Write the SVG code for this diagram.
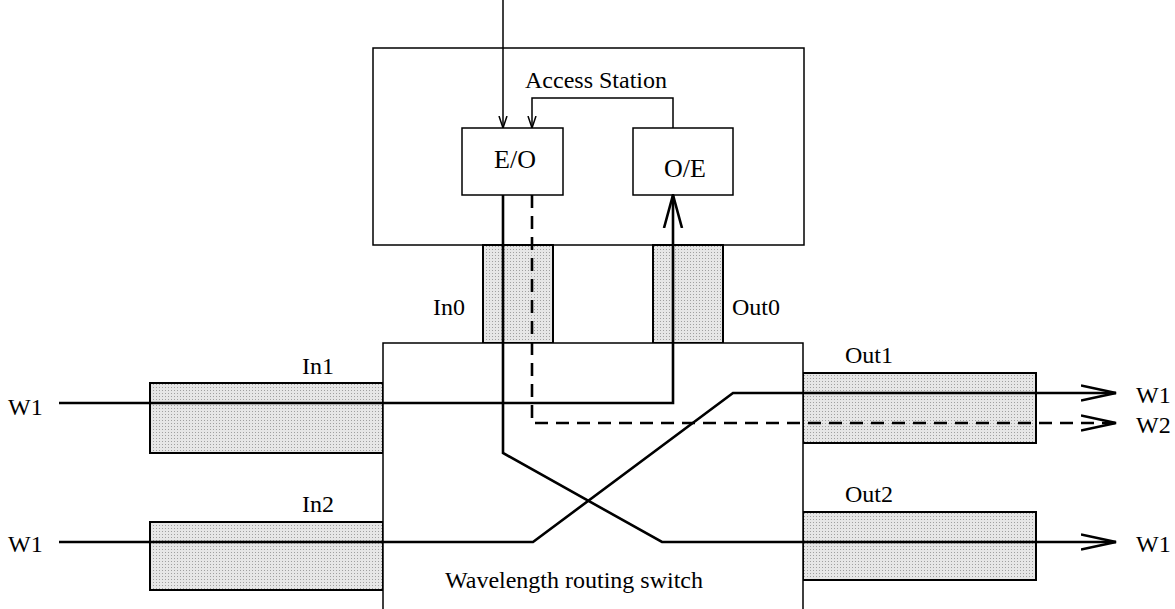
<svg xmlns="http://www.w3.org/2000/svg" width="1175" height="609" viewBox="0 0 1175 609">
<style>
text{font-family:"Liberation Serif","Times New Roman",serif;font-size:24px;fill:#000}
.box{fill:#fff;stroke:#000;stroke-width:1.5}
.fib{fill:url(#stip);stroke:#000;stroke-width:2}
.thin{fill:none;stroke:#000;stroke-width:1.5}
.sig{fill:none;stroke:#000;stroke-width:2.6}
.dash{stroke-dasharray:13,8}
</style>
<defs>
<pattern id="stip" width="3" height="3" patternUnits="userSpaceOnUse">
<rect width="3" height="3" fill="#e6e6e6"/>
<rect width="1" height="1" fill="#a0a0a0"/>
</pattern>
<marker id="sm" viewBox="0 0 12 10" refX="12" refY="5" markerWidth="12" markerHeight="10" markerUnits="userSpaceOnUse" orient="auto">
<path d="M0,1 L12,5 L0,9" fill="none" stroke="#000" stroke-width="1.5"/>
</marker>
<marker id="big" viewBox="0 0 36 18" refX="35" refY="9" markerWidth="36" markerHeight="18" markerUnits="userSpaceOnUse" orient="auto">
<path d="M0,1.5 L35,9 L0,16.5" fill="none" stroke="#000" stroke-width="2.6"/>
</marker>
<marker id="up" viewBox="0 0 34 22" refX="33" refY="11" markerWidth="34" markerHeight="22" markerUnits="userSpaceOnUse" orient="auto">
<path d="M0,2 L33,11 L0,20" fill="none" stroke="#000" stroke-width="2.6"/>
</marker>
</defs>
<g id="access-station">
<rect class="box" x="373" y="48" width="431" height="197"/>
<text x="596" y="88" text-anchor="middle">Access Station</text>
</g>
<g id="eo">
<rect class="box" x="462" y="128" width="101" height="67"/>
<text x="515" y="168" text-anchor="middle" style="font-size:26px">E/O</text>
</g>
<g id="oe">
<rect class="box" x="633" y="128" width="100" height="67"/>
<text x="685" y="177" text-anchor="middle" style="font-size:26px">O/E</text>
</g>
<g id="in0">
<rect class="fib" x="483" y="245" width="70" height="98"/>
<text x="433" y="315">In0</text>
</g>
<g id="out0">
<rect class="fib" x="653" y="245" width="70" height="98"/>
<text x="732" y="315">Out0</text>
</g>
<g id="in1">
<rect class="fib" x="150" y="383" width="233" height="70"/>
<text x="302" y="374">In1</text>
</g>
<g id="in2">
<rect class="fib" x="150" y="522" width="233" height="68"/>
<text x="302" y="512">In2</text>
</g>
<g id="out1">
<rect class="fib" x="803" y="373" width="233" height="70"/>
<text x="845" y="363">Out1</text>
</g>
<g id="out2">
<rect class="fib" x="803" y="512" width="233" height="68"/>
<text x="845" y="502">Out2</text>
</g>
<g id="switch">
<path class="box" d="M383,612 V343 H803 V612"/>
<text x="445" y="588">Wavelength routing switch</text>
</g>
<g id="labels">
<text x="8" y="415">W1</text>
<text x="8" y="552">W1</text>
<text x="1136" y="403">W1</text>
<text x="1136" y="433">W2</text>
<text x="1136" y="552">W1</text>
</g>
<g id="connectors">
<path class="thin" d="M503,0 V128" marker-end="url(#sm)"/>
<path class="thin" d="M673,128 V98 H532 V128" marker-end="url(#sm)"/>
<path class="sig" d="M59,403 H673 V195" marker-end="url(#up)"/>
<path class="sig" d="M503,195 V453 L662,542 H1116" marker-end="url(#big)"/>
<path class="sig" d="M59,542 H533 L733,393 H1116" marker-end="url(#big)"/>
<path class="sig dash" d="M532,195 V423 H1116" marker-end="url(#big)"/>
</g>
</svg>
